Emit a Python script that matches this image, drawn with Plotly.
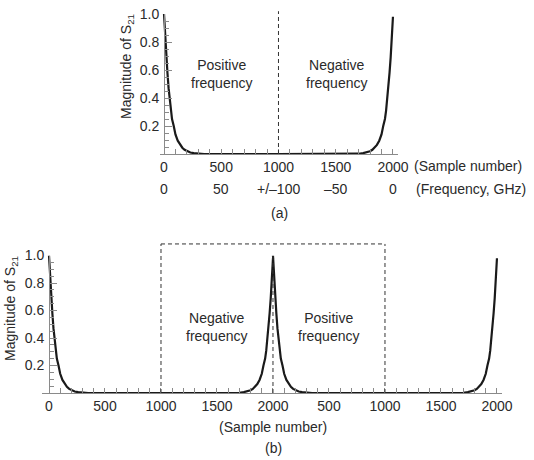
import plotly.graph_objects as go

# ---- data ----
sample_n = [0, 10, 20, 30, 40, 50, 60, 70, 85, 100, 120, 140, 160, 180, 200, 230, 260, 300, 350,
            1000,
            1650, 1700, 1740, 1770, 1800, 1820, 1840, 1860, 1880, 1900, 1915, 1930, 1940, 1950,
            1960, 1970, 1980, 1990, 2000]
magnitude = [1.00, 0.83, 0.69, 0.58, 0.47, 0.39, 0.31, 0.25, 0.20, 0.14, 0.095, 0.065, 0.045, 0.030,
             0.020, 0.011, 0.006, 0.002, 0.0,
             0.0,
             0.0, 0.002, 0.006, 0.011, 0.020, 0.030, 0.045, 0.065, 0.095, 0.14, 0.20, 0.25, 0.31,
             0.39, 0.47, 0.58, 0.69, 0.83, 0.98]

top_x_ticks = [0, 500, 1000, 1500, 2000]
top_x_labels = ["0", "500", "1000", "1500", "2000"]
freq_labels = ["0", "50", "+/\u2013100", "\u201350", "0"]
y_ticks = [0.2, 0.4, 0.6, 0.8, 1.0]
y_labels = ["0.2", "0.4", "0.6", "0.8", "1.0"]
bottom_x_ticks = [0, 500, 1000, 1500, 2000, 2500, 3000, 3500, 4000]
bottom_x_labels = ["0", "500", "1000", "1500", "2000", "500", "1000", "1500", "2000"]
period = 2000

W, H = 534, 460
FONT = "Liberation Sans, Arial, sans-serif"
TXT = "#2a2a2a"
AX = "#8a8a8a"
LINE = "#1a1a1a"

def fx(p):
    return p / W

def fy(p):
    return 1 - p / H

fig = go.Figure()

fig.add_trace(go.Scatter(x=sample_n, y=magnitude, mode="lines",
                         line=dict(color=LINE, width=2.2), xaxis="x", yaxis="y",
                         showlegend=False, hoverinfo="skip"))
fig.add_trace(go.Scatter(x=sample_n, y=magnitude, mode="lines",
                         line=dict(color=LINE, width=2.2), xaxis="x2", yaxis="y2",
                         showlegend=False, hoverinfo="skip"))
fig.add_trace(go.Scatter(x=[v + period for v in sample_n], y=magnitude, mode="lines",
                         line=dict(color=LINE, width=2.2), xaxis="x2", yaxis="y2",
                         showlegend=False, hoverinfo="skip"))

axis_common = dict(showgrid=False, zeroline=False, showline=True, linecolor=AX, linewidth=1,
                   ticks="inside", tickcolor=AX, tickwidth=1, automargin=False,
                   tickfont=dict(family=FONT, size=14, color=TXT))

fig.update_layout(
    width=W, height=H, margin=dict(l=0, r=0, t=0, b=0, autoexpand=False),
    paper_bgcolor="white", plot_bgcolor="rgba(0,0,0,0)",
    xaxis=dict(domain=[fx(160), fx(398)], range=[-35, 2044], anchor="y",
               tickvals=top_x_ticks, ticktext=top_x_labels, ticklen=5,
               minor=dict(dtick=100, tick0=0, ticks="inside", ticklen=5, tickcolor=AX),
               **axis_common),
    yaxis=dict(domain=[fy(154), fy(14)], range=[0, 1.0], anchor="free", position=fx(164),
               tickvals=y_ticks, ticktext=y_labels, ticklen=7, ticklabelstandoff=2,
               minor=dict(dtick=0.05, tick0=0, ticks="inside", ticklen=4, tickcolor=AX),
               **axis_common),
    xaxis2=dict(domain=[fx(42), fx(502)], range=[-62.5, 4045], anchor="y2",
                tickvals=bottom_x_ticks, ticktext=bottom_x_labels, ticklen=5,
                minor=dict(dtick=100, tick0=0, ticks="inside", ticklen=5, tickcolor=AX),
                **axis_common),
    yaxis2=dict(domain=[fy(393), fy(255.5)], range=[0, 1.0], anchor="free", position=fx(49),
                tickvals=y_ticks, ticktext=y_labels, ticklen=7, ticklabelstandoff=2,
                minor=dict(dtick=0.05, tick0=0, ticks="inside", ticklen=4, tickcolor=AX),
                **axis_common),
)

dash = dict(color="#333", width=1, dash="4px,3px")
fig.add_shape(type="line", xref="x", yref="y domain", x0=1000, x1=1000, y0=0, y1=1.02, line=dash)
fig.add_shape(type="line", xref="x2", yref="y2 domain", x0=1000, x1=1000, y0=0, y1=1.084, line=dash)
fig.add_shape(type="line", xref="x2", yref="y2 domain", x0=3000, x1=3000, y0=0, y1=1.084, line=dash)
fig.add_shape(type="line", xref="x2", yref="y2 domain", x0=1000, x1=3000, y0=1.084, y1=1.084, line=dash)
fig.add_shape(type="line", xref="x2", yref="y2", x0=2000, x1=2000, y0=0, y1=1.0, line=dash)

def ann(text, x, y, xref="paper", yref="paper", xanchor="center", yanchor="middle", angle=0):
    fig.add_annotation(text=text, x=x, y=y, xref=xref, yref=yref, showarrow=False,
                       xanchor=xanchor, yanchor=yanchor, textangle=angle,
                       font=dict(family=FONT, size=14, color=TXT), align="center")

ann("Positive<br>frequency", 505, 0.57, xref="x", yref="y")
ann("Negative<br>frequency", 1510, 0.57, xref="x", yref="y")
ann("Negative<br>frequency", 1500, 0.48, xref="x2", yref="y2")
ann("Positive<br>frequency", 2500, 0.48, xref="x2", yref="y2")

for tv, tl in zip(top_x_ticks, freq_labels):
    ann(tl, tv, fy(189), xref="x")

ann("(Sample number)", fx(412), fy(166), xanchor="left")
ann("(Frequency, GHz)", fx(414), fy(189), xanchor="left")
ann("(a)", fx(279), fy(213))
ann("(Sample number)", fx(273), fy(427))
ann("(b)", fx(273), fy(448))

ann("Magnitude of S<sub>21</sub>", fx(127), fy(67), angle=-90)
ann("Magnitude of S<sub>21</sub>", fx(11), fy(309), angle=-90)

fig.write_html("out.html", config={"displayModeBar": False},
               post_script="document.body.style.margin='0';")
